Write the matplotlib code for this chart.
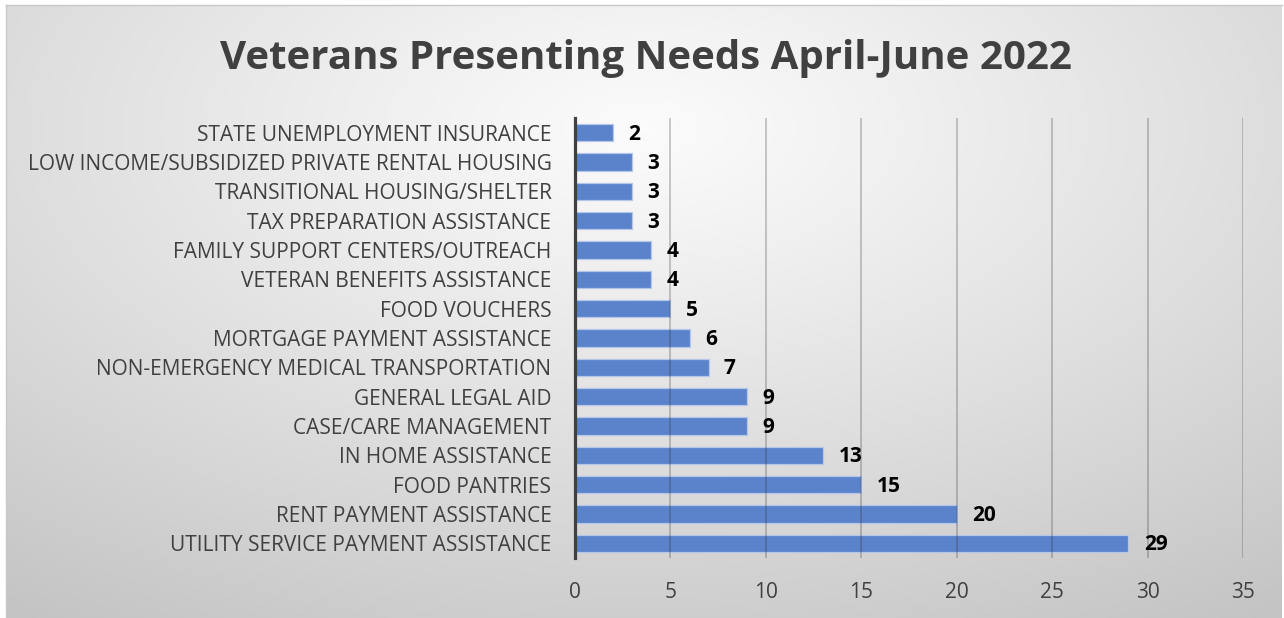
import numpy as np
import matplotlib
matplotlib.use("Agg")
import matplotlib.pyplot as plt

categories = [
    "UTILITY SERVICE PAYMENT ASSISTANCE",
    "RENT PAYMENT ASSISTANCE",
    "FOOD PANTRIES",
    "IN HOME ASSISTANCE",
    "CASE/CARE MANAGEMENT",
    "GENERAL LEGAL AID",
    "NON-EMERGENCY MEDICAL TRANSPORTATION",
    "MORTGAGE PAYMENT ASSISTANCE",
    "FOOD VOUCHERS",
    "VETERAN BENEFITS ASSISTANCE",
    "FAMILY SUPPORT CENTERS/OUTREACH",
    "TAX PREPARATION ASSISTANCE",
    "TRANSITIONAL HOUSING/SHELTER",
    "LOW INCOME/SUBSIDIZED PRIVATE RENTAL HOUSING",
    "STATE UNEMPLOYMENT INSURANCE",
]
values = [29, 20, 15, 13, 9, 9, 7, 6, 5, 4, 4, 3, 3, 3, 2]
x_ticks = [0, 5, 10, 15, 20, 25, 30, 35]
title = "Veterans Presenting Needs April-June 2022"

W, H = 1284, 618
fig = plt.figure(figsize=(W / 100, H / 100), dpi=100)
fig.patch.set_facecolor("white")

# background gradient panel
bg = fig.add_axes([6 / W, 0, (W - 8) / W, (H - 5) / H])
yy, xx = np.mgrid[0:300, 0:600]
cx, cy = 300, 60
d = np.sqrt(((xx - cx) / 600.0) ** 2 + ((yy - cy) / 330.0) ** 2)
d = np.clip(d / d.max(), 0, 1)
shade = 0.985 - 0.22 * d ** 1.1
img = np.dstack([shade, shade, shade])
bg.imshow(img, aspect="auto", extent=[0, 1, 0, 1], interpolation="bilinear")
bg.set_xlim(0, 1)
bg.set_ylim(0, 1)
for s in bg.spines.values():
    s.set_color("#c8c8c8")
    s.set_linewidth(1)
bg.set_xticks([])
bg.set_yticks([])
bg.spines["bottom"].set_visible(False)
bg.spines["right"].set_visible(False)

ax = fig.add_axes([575 / W, 1 - 558 / H, (1243 - 575) / W, (558 - 118) / H])
ax.patch.set_alpha(0)
y = np.arange(len(categories))
ax.barh(y, values, height=0.6, color="#5A83CC", edgecolor="#B4C7EA",
        linewidth=0.9, zorder=2)
ax.set_xlim(0, 35)
ax.set_ylim(-0.5, len(categories) - 0.5)
ax.set_xticks(x_ticks)
ax.set_yticks(y)
ax.set_yticklabels(categories)
ax.xaxis.grid(True, color="#333333", alpha=0.3, linewidth=1.2, zorder=3)
ax.set_axisbelow(False)
for s in ["top", "right", "bottom"]:
    ax.spines[s].set_visible(False)
ax.spines["left"].set_color("#404040")
ax.spines["left"].set_linewidth(2.3)
ax.spines["left"].set_zorder(4)
ax.tick_params(axis="both", length=0, colors="#595959", labelsize=15)
ax.tick_params(axis="y", pad=17)
ax.tick_params(axis="x", pad=17)
for lab in ax.get_yticklabels() + ax.get_xticklabels():
    lab.set_fontfamily("Open Sans")
    lab.set_color("#404040")

for yi, v in zip(y, values):
    ax.annotate(str(v), (v, yi), xytext=(11, -1), textcoords="offset points",
                ha="left", va="center", fontsize=15, fontweight="bold",
                color="black", family="Open Sans", zorder=5)

fig.text(0.5 + 4 / W, 1 - 59 / H, title, ha="center", va="center",
         fontsize=29, fontweight="bold", color="#404040", family="Open Sans")

fig.savefig("out.png", dpi=100)
